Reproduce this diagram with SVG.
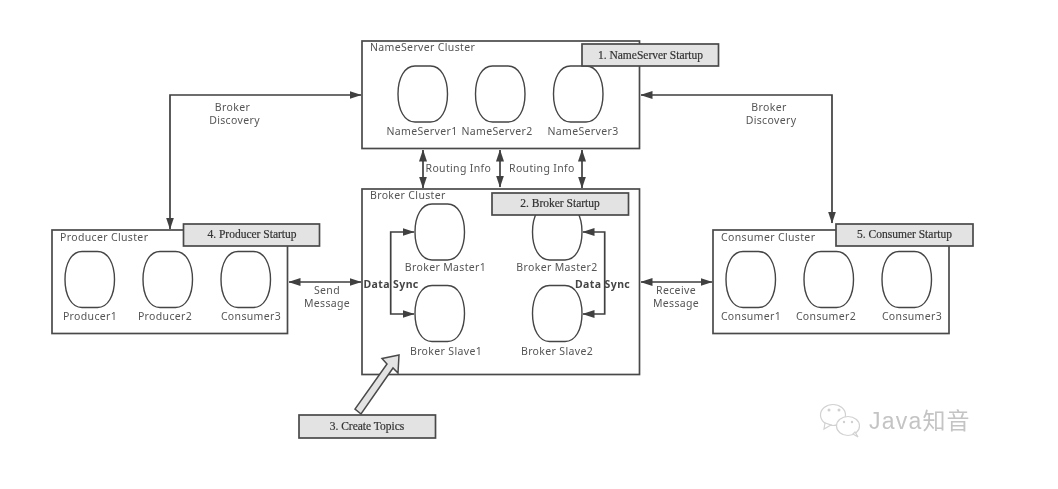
<svg xmlns="http://www.w3.org/2000/svg" width="1058" height="489" viewBox="0 0 1058 489">
<style>
.box{fill:#fff;stroke:#4a4a4a;stroke-width:1.7}
.node{fill:#fff;stroke:#444;stroke-width:1.4}
.banner{fill:#e3e3e3;stroke:#4a4a4a;stroke-width:1.7}
.t{font-family:"Noto Sans","DejaVu Sans",sans-serif;font-size:10.5px;fill:#555;letter-spacing:.35px}
.m{text-anchor:middle}
.b{font-family:"Liberation Serif",serif;font-size:11.5px;fill:#333;text-anchor:middle;stroke:#333;stroke-width:.2}
.sync{font-family:"Noto Sans","DejaVu Sans",sans-serif;font-size:10.5px;font-weight:bold;fill:#444;letter-spacing:.4px}
.c{fill:none;stroke:#3f3f3f;stroke-width:1.7}
.wm{font-family:"Liberation Sans","Noto Sans CJK SC",sans-serif;font-size:23px;fill:#c4c4c4;letter-spacing:1.2px}
.ic{fill:#fff;stroke:#d2d2d2;stroke-width:1.2}
.d{fill:#d0d0d0}
</style>
<defs>
<marker id="a" viewBox="0 0 12 8" refX="11.5" refY="4" markerWidth="12" markerHeight="8" markerUnits="userSpaceOnUse" orient="auto-start-reverse"><path d="M0 0L12 4L0 8Z" fill="#3f3f3f"/></marker>
<path id="n" class="node" d="M17 0H32.500C43 0 49.500 12 49.500 28C49.500 44 43 56 32.500 56H17C6.500 56 0 44 0 28C0 12 6.500 0 17 0Z"/>
<filter id="s" x="-5%" y="-5%" width="110%" height="110%"><feGaussianBlur stdDeviation="0.35"/></filter>
</defs>
<rect width="1058" height="489" fill="#fff"/>
<g filter="url(#s)">
<g id="nameserver-cluster">
<rect class="box" x="362" y="41" width="277.5" height="107.5"/>
<text class="t" x="370" y="51">NameServer Cluster</text>
<use href="#n" x="398" y="66"/><use href="#n" x="475.5" y="66"/><use href="#n" x="553.5" y="66"/>
<text class="t m" x="422" y="135">NameServer1</text>
<text class="t m" x="497" y="135">NameServer2</text>
<text class="t m" x="583" y="135">NameServer3</text>
</g>
<g id="banner-1"><rect class="banner" x="582" y="44" width="136.5" height="22"/><text class="b" x="650.5" y="59">1. NameServer Startup</text></g>
<g id="broker-cluster">
<rect class="box" x="362" y="189" width="277.5" height="185.5"/>
<text class="t" x="370" y="199">Broker Cluster</text>
<use href="#n" x="415" y="204"/><use href="#n" x="532.5" y="204"/><use href="#n" x="415" y="285.5"/><use href="#n" x="532.5" y="285.5"/>
<text class="t m" x="445.500" y="271">Broker Master1</text>
<text class="t m" x="557" y="271">Broker Master2</text>
<text class="t m" x="446" y="355">Broker Slave1</text>
<text class="t m" x="557" y="355">Broker Slave2</text>
</g>
<g id="banner-2"><rect class="banner" x="492" y="193" width="136.5" height="22"/><text class="b" x="560" y="207">2. Broker Startup</text></g>
<g id="producer-cluster">
<rect class="box" x="52" y="230" width="235.5" height="103.500"/>
<text class="t" x="60" y="241">Producer Cluster</text>
<use href="#n" x="65" y="251.500"/><use href="#n" x="143" y="251.500"/><use href="#n" x="221" y="251.500"/>
<text class="t m" x="90" y="320">Producer1</text>
<text class="t m" x="165" y="320">Producer2</text>
<text class="t m" x="251" y="320">Consumer3</text>
</g>
<g id="banner-4"><rect class="banner" x="183.500" y="224" width="136" height="22"/><text class="b" x="252" y="238">4. Producer Startup</text></g>
<g id="consumer-cluster">
<rect class="box" x="713" y="230" width="236" height="103.500"/>
<text class="t" x="721" y="241">Consumer Cluster</text>
<use href="#n" x="726" y="251.500"/><use href="#n" x="804" y="251.500"/><use href="#n" x="882" y="251.500"/>
<text class="t m" x="751" y="320">Consumer1</text>
<text class="t m" x="826" y="320">Consumer2</text>
<text class="t m" x="912" y="320">Consumer3</text>
</g>
<g id="banner-5"><rect class="banner" x="836" y="224" width="137" height="22"/><text class="b" x="904.500" y="238">5. Consumer Startup</text></g>
<g id="banner-3"><rect class="banner" x="299" y="415" width="136.500" height="23"/><text class="b" x="367" y="430">3. Create Topics</text></g>
<g id="connectors">
<path class="c" d="M170 229V95H361" marker-start="url(#a)" marker-end="url(#a)"/>
<path class="c" d="M641 95H832V223" marker-start="url(#a)" marker-end="url(#a)"/>
<path class="c" d="M423 150V188" marker-start="url(#a)" marker-end="url(#a)"/>
<path class="c" d="M500 150V187" marker-start="url(#a)" marker-end="url(#a)"/>
<path class="c" d="M582 150V188" marker-start="url(#a)" marker-end="url(#a)"/>
<path class="c" d="M289 282H361" marker-start="url(#a)" marker-end="url(#a)"/>
<path class="c" d="M641 282H712" marker-start="url(#a)" marker-end="url(#a)"/>
<path class="c" d="M414 232H390.700V314H414" marker-start="url(#a)" marker-end="url(#a)"/>
<path class="c" d="M583 232H604.700V314H583" marker-start="url(#a)" marker-end="url(#a)"/>
<path d="M399 355L382 358.500L387 364L355 409L361 414L393 368L398 373Z" fill="#e3e3e3" stroke="#4a4a4a" stroke-width="1.5"/>
</g>
<g id="labels">
<text class="t m" x="232.500" y="111">Broker</text><text class="t m" x="234.500" y="124">Discovery</text>
<text class="t m" x="769" y="111">Broker</text><text class="t m" x="771" y="124">Discovery</text>
<text class="t" x="425.500" y="172">Routing Info</text>
<text class="t" x="509" y="172">Routing Info</text>
<text class="t m" x="327" y="294">Send</text><text class="t m" x="327" y="307">Message</text>
<text class="t m" x="676" y="294">Receive</text><text class="t m" x="676" y="307">Message</text>
<text class="sync" x="363.500" y="288">Data Sync</text>
<text class="sync" x="575" y="288">Data Sync</text>
</g>
<g id="watermark">
<ellipse class="ic" cx="833" cy="415" rx="12.500" ry="10.500"/>
<path class="ic" d="M825 423L824 429L831 425Z"/>
<circle class="d" cx="829" cy="410" r="1.500"/><circle class="d" cx="839" cy="410" r="1.500"/>
<ellipse class="ic" cx="848" cy="426" rx="11.500" ry="9.500"/>
<path class="ic" d="M853 434L858 437L855 432Z"/>
<circle class="d" cx="844" cy="422" r="1.200"/><circle class="d" cx="852" cy="422" r="1.200"/>
<text class="wm" x="869" y="429">Java知音</text>
</g>
</g>
</svg>
